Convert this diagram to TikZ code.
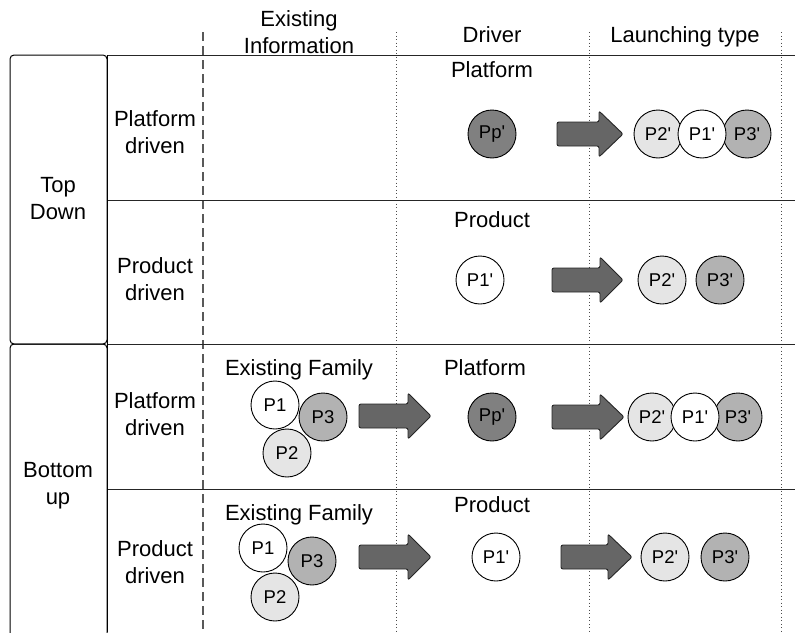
\documentclass[tikz,border=0pt]{standalone}
\usepackage{fontspec}
\setmainfont{Liberation Sans}
\newfontfamily\circfont{Liberation Sans}[Ligatures=TeXOff]
\begin{document}
\begin{tikzpicture}[x=1pt,y=-1pt,
  lbl/.style={font=\fontsize{22}{27}\selectfont, align=center, anchor=base, inner sep=0pt},
  prod/.style={circle, draw=black, line width=0.9pt, minimum size=48pt, inner sep=0pt,
    font=\circfont\fontsize{18.5}{18.5}\selectfont},
  pwhite/.style={prod, fill=white},
  plight/.style={prod, fill=black!10},
  pmid/.style={prod, fill=black!30},
  pdark/.style={prod, fill=black!50},
  rowline/.style={line width=0.9pt, draw=black!85},
  dashcol/.style={line width=1.4pt, draw=black!65, dash pattern=on 9pt off 5pt},
  dotcol/.style={line width=0.9pt, draw=black!70, dash pattern=on 1.2pt off 2.3pt},
  blockarrow/.style={fill=black!60, draw=black!85, line width=0.9pt, rounded corners=2pt}
]
\useasboundingbox (0,0) rectangle (795,632);

% block arrow: shaft start, head base, tip, centre line
\newcommand\bigarrow[4]{%
  \path[blockarrow] (#1,#4-12) -- (#2,#4-12) -- (#2,#4-23) -- (#3,#4)
    -- (#2,#4+23) -- (#2,#4+12) -- (#1,#4+12) -- cycle;}

% column separators
\draw[dashcol] (203,32) -- (203,632);
\draw[dotcol] (396,32) -- (396,632);
\draw[dotcol] (589,32) -- (589,632);
\draw[dotcol] (781,32) -- (781,632);

% row separators
\draw[rowline] (107,55) -- (795,55);
\draw[rowline] (107,200) -- (795,200);
\draw[rowline] (107,344) -- (795,344);
\draw[rowline] (107,489) -- (795,489);

% group boxes
\draw[line width=1pt, rounded corners=4pt] (10,55) rectangle (107,344);
\draw[line width=1pt, rounded corners=4pt] (10,344) rectangle (107,650);
\draw[line width=1pt] (107,55) -- (107,632);

% column headings (base anchor = last line)
\node[lbl] (hExist) at (299,53) {Existing\\Information};
\node[lbl] (hDriver) at (492,42) {Driver};
\node[lbl] (hLaunch) at (685,42) {Launching type};

% group and row headings
\node[lbl] (gTop) at (58,219) {Top\\Down};
\node[lbl] (gBottom) at (58,504) {Bottom\\up};
\node[lbl] (r1) at (155,153) {Platform\\driven};
\node[lbl] (r2) at (155,300) {Product\\driven};
\node[lbl] (r3) at (155,435) {Platform\\driven};
\node[lbl] (r4) at (155,583) {Product\\driven};

% row 1: top down, platform driven
\node[lbl] (d1) at (492,77) {Platform};
\node[pdark] (pp1) at (492,134) {Pp'};
\bigarrow{557}{599}{623}{134}
\node[plight] (a1p2) at (658,134) {P2'};
\node[pmid] (a1p3) at (747,134) {P3'};
\node[pwhite] (a1p1) at (702,134) {P1'};

% row 2: top down, product driven
\node[lbl] (d2) at (492,227) {Product};
\node[pwhite] (p1r2) at (480,280) {P1'};
\bigarrow{552}{600}{623}{280}
\node[plight] (a2p2) at (662,280) {P2'};
\node[pmid] (a2p3) at (720,280) {P3'};

% row 3: bottom up, platform driven
\node[lbl] (e3) at (299,375) {Existing Family};
\node[pwhite] (e3p1) at (275,405) {P1};
\node[pmid] (e3p3) at (323,417) {P3};
\node[plight] (e3p2) at (287,453) {P2};
\bigarrow{359}{408}{431}{416}
\node[lbl] (d3) at (485,375) {Platform};
\node[pdark] (pp3) at (492,417) {Pp'};
\bigarrow{552}{600}{624}{417}
\node[plight] (a3p2) at (652,417) {P2'};
\node[pmid] (a3p3) at (738,417) {P3'};
\node[pwhite] (a3p1) at (695,417) {P1'};

% row 4: bottom up, product driven
\node[lbl] (e4) at (299,520) {Existing Family};
\node[pwhite] (e4p1) at (263,548) {P1};
\node[pmid] (e4p3) at (312,561) {P3};
\node[plight] (e4p2) at (275,597) {P2};
\bigarrow{359}{408}{431}{557}
\node[lbl] (d4) at (492,512) {Product};
\node[pwhite] (p1r4) at (496,557) {P1'};
\bigarrow{561}{608}{632}{557}
\node[plight] (a4p2) at (665,557) {P2'};
\node[pmid] (a4p3) at (725,557) {P3'};
\end{tikzpicture}
\end{document}
